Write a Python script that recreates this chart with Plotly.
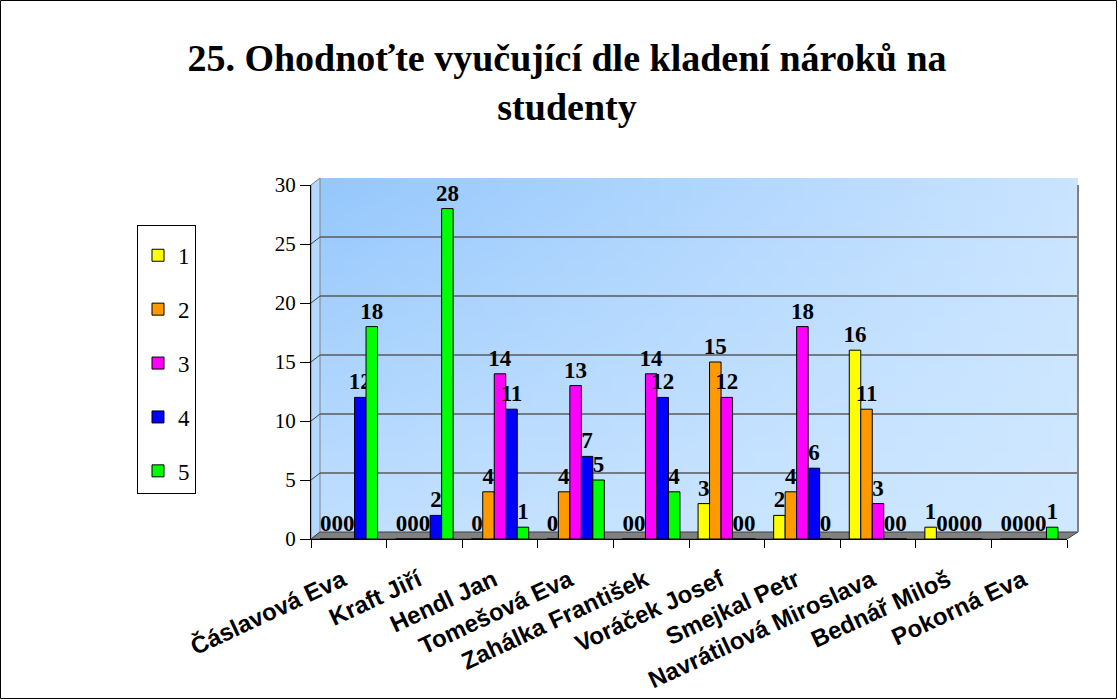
import base64
import struct
import zlib

import plotly.graph_objects as go

# ---------------- data ----------------
teachers = ["Čáslavová Eva", "Kraft Jiří", "Hendl Jan", "Tomešová Eva",
            "Zahálka František", "Voráček Josef", "Smejkal Petr",
            "Navrátilová Miroslava", "Bednář Miloš", "Pokorná Eva"]
series_names = ["1", "2", "3", "4", "5"]
s1 = [0, 0, 0, 0, 0, 3, 2, 16, 1, 0]
s2 = [0, 0, 4, 4, 0, 15, 4, 11, 0, 0]
s3 = [0, 0, 14, 13, 14, 12, 18, 3, 0, 0]
s4 = [12, 2, 11, 7, 12, 0, 6, 0, 0, 0]
s5 = [18, 28, 1, 5, 4, 0, 0, 0, 0, 1]
series_values = [s1, s2, s3, s4, s5]
colors = ["#FFFF00", "#FF9900", "#FF00FF", "#0000FF", "#00FF00"]
y_ticks = [0, 5, 10, 15, 20, 25, 30]

# ---------------- geometry (pixels) ----------------
FIG_W, FIG_H = 1118, 700
L, R, T, B = 311, 1067, 185, 539          # front plane of the plot
PW, PH = R - L, B - T
DX, DY = 9, 7                              # 3D depth offset
YMAX = 30
DY_DATA = DY * YMAX / PH
TITLE_BASELINE = 72


def px(x):
    return (x - L) / PW


def py(y):
    return (B - y) / PH


# ---------------- background gradient image ----------------
def gradient_png(w, h):
    tl, tr = (150, 200, 252), (202, 228, 255)
    bl, br = (192, 223, 255), (208, 232, 255)
    rows = []
    for j in range(h):
        v = j / (h - 1)
        row = bytearray([0])
        for i in range(w):
            u = i / (w - 1)
            for c in range(3):
                top = tl[c] + (tr[c] - tl[c]) * u
                bot = bl[c] + (br[c] - bl[c]) * u
                row.append(int(round(top + (bot - top) * v)))
        rows.append(bytes(row))
    raw = b"".join(rows)

    def chunk(t, d):
        return (struct.pack(">I", len(d)) + t + d
                + struct.pack(">I", zlib.crc32(t + d) & 0xFFFFFFFF))

    png = (b"\x89PNG\r\n\x1a\n"
           + chunk(b"IHDR", struct.pack(">IIBBBBB", w, h, 8, 2, 0, 0, 0))
           + chunk(b"IDAT", zlib.compress(raw))
           + chunk(b"IEND", b""))
    return "data:image/png;base64," + base64.b64encode(png).decode()


fig = go.Figure()
for name, vals, col in zip(series_names, series_values, colors):
    fig.add_trace(go.Bar(
        x=teachers, y=vals, name=name, legendgroup=name,
        marker=dict(color=col, line=dict(color="black", width=1)),
        text=vals, texttemplate="%{y}", textposition="outside",
        constraintext="none", cliponaxis=False,
        textfont=dict(family="Liberation Serif", size=23, color="black",
                      weight="bold"),
    ))

shapes = []
grey = "#808080"
WALL_R = R + DX + 2
# left wall
shapes.append(dict(type="path", xref="paper", yref="paper", layer="below",
                   path=f"M {px(L)} {py(T)} L {px(L+DX)} {py(T-DY)} L {px(L+DX)} {py(B-DY)} L {px(L)} {py(B)} Z",
                   fillcolor="#B4D8FF", line=dict(color=grey, width=1)))
# floor
shapes.append(dict(type="path", xref="paper", yref="paper", layer="below",
                   path=f"M {px(L)} {py(B)} L {px(L+DX)} {py(B-DY)} L {px(WALL_R)} {py(B-DY)} L {px(R)} {py(B)} Z",
                   fillcolor=grey, line=dict(color="#404040", width=1)))
# grid lines on back wall and left wall
for v in y_ticks[1:]:
    shapes.append(dict(type="line", xref="paper", yref="y", layer="below",
                       x0=px(L + DX), x1=px(WALL_R), y0=v + DY_DATA, y1=v + DY_DATA,
                       line=dict(color="#5a5a5a" if v < YMAX else grey, width=1.5)))
    shapes.append(dict(type="line", xref="paper", yref="y", layer="below",
                       x0=px(L), x1=px(L + DX), y0=v, y1=v + DY_DATA,
                       line=dict(color="#404040", width=1)))
# right edge of back wall
shapes.append(dict(type="line", xref="paper", yref="y", layer="below",
                   x0=px(WALL_R), x1=px(WALL_R), y0=DY_DATA, y1=YMAX + DY_DATA,
                   line=dict(color=grey, width=2)))
# outer frame
shapes.append(dict(type="rect", xref="paper", yref="paper", layer="above",
                   x0=px(0.5), x1=px(FIG_W - 1.5), y0=py(FIG_H - 1.5), y1=py(0.5),
                   line=dict(color="black", width=1), fillcolor="rgba(0,0,0,0)"))

fig.update_layout(
    width=FIG_W, height=FIG_H,
    margin=dict(l=L, r=FIG_W - R, t=T, b=FIG_H - B, pad=0, autoexpand=False),
    paper_bgcolor="white", plot_bgcolor="white",
    barmode="group", bargap=0.24, bargroupgap=0,
    title=dict(text="25. Ohodnoťte vyučující dle kladení nároků na<br>studenty",
               x=567 / FIG_W, xanchor="center", xref="container",
               y=1, yanchor="bottom", yref="paper",
               pad=dict(b=T - TITLE_BASELINE + 1),
               font=dict(family="Liberation Serif", size=38, color="black",
                         weight="bold")),
    showlegend=True,
    legend=dict(x=px(137), y=py(225), xanchor="left", yanchor="top",
                bordercolor="black", borderwidth=1, bgcolor="white",
                font=dict(family="Liberation Serif", size=23, color="black"),
                title=dict(text="&nbsp;", font=dict(size=6)),
                tracegroupgap=21, traceorder="grouped"),
    xaxis=dict(type="category", showgrid=False, showline=True,
               linecolor="black", linewidth=1, ticks="outside",
               tickson="boundaries", ticklen=8, tickcolor="black",
               tickangle=-25, ticklabelstandoff=14, automargin=False,
               tickvals=teachers, ticktext=[t + "\u00a0" for t in teachers],
               tickfont=dict(family="Liberation Sans", size=24, color="black",
                             weight="bold")),
    yaxis=dict(range=[0, YMAX], tickvals=y_ticks, showgrid=False,
               zeroline=False, showline=True, linecolor="black", linewidth=1,
               ticks="outside", ticklen=10, tickcolor="black", automargin=False,
               tickfont=dict(family="Liberation Serif", size=21, color="black")),
    images=[dict(source=gradient_png(48, 24), xref="paper", yref="paper",
                 x=px(L + DX), y=py(T - DY), sizex=px(WALL_R) - px(L + DX),
                 sizey=py(T - DY) - py(B - DY), sizing="stretch",
                 xanchor="left", yanchor="top", layer="below")],
    shapes=shapes,
)

fig.write_html("out.html", config={"displayModeBar": False},
               post_script="document.body.style.margin='0';")
